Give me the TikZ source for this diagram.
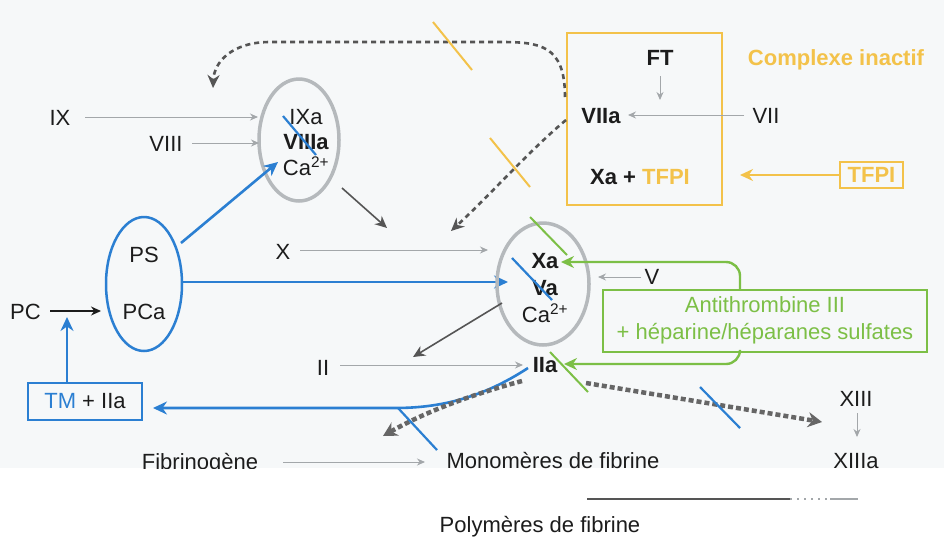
\documentclass[tikz,border=0pt]{standalone}
\usepackage{fontspec}
\setmainfont{Liberation Sans}
\usetikzlibrary{arrows.meta,shapes.geometric}
\definecolor{cblue}{HTML}{2B7FD2}
\definecolor{cyel}{HTML}{F3C24A}
\definecolor{cgreen}{HTML}{7CBF46}
\definecolor{cgreyell}{HTML}{B5B9BC}
\definecolor{cdark}{HTML}{555555}
\definecolor{clight}{HTML}{A3A7AA}
\definecolor{ctext}{HTML}{1C1C1C}
\definecolor{cbg}{HTML}{F6F8F9}
\begin{document}
\begin{tikzpicture}[x=1pt,y=-1pt,
  lbl/.style={font=\fontsize{22}{26}\selectfont, text=ctext, inner sep=0pt, anchor=base},
  blbl/.style={font=\fontsize{22}{26}\selectfont\bfseries, text=ctext, inner sep=0pt, anchor=base},
  greyarr/.style={draw=clight, line width=1pt, -{Stealth[length=8pt,width=7pt]}},
  darkarr/.style={draw=cdark, line width=1.6pt, -{Stealth[length=12pt,width=11pt]}},
  blackarr/.style={draw=ctext, line width=1.3pt, -{Stealth[length=10pt,width=9pt]}},
  dasharr/.style={draw=cdark, line width=2.6pt, dash pattern=on 5pt off 4pt, -{Stealth[length=13pt,width=12pt]}},
  thickdash/.style={draw=cdark!90, line width=4.5pt, dash pattern=on 5pt off 3pt, -{Stealth[length=14pt,width=15pt]}},
  bluearr/.style={draw=cblue, line width=2.6pt, -{Stealth[length=14pt,width=13pt]}},
  yelarr/.style={draw=cyel, line width=2.2pt, -{Stealth[length=13pt,width=12pt]}},
  greenarr/.style={draw=cgreen, line width=2.4pt, rounded corners=14pt, -{Stealth[length=13pt,width=12pt]}},
  yslash/.style={draw=cyel, line width=2pt},
  gslash/.style={draw=cgreen, line width=2pt},
  bslash/.style={draw=cblue, line width=2.2pt},
  complex/.style={draw=cgreyell, line width=3.5pt, ellipse, inner sep=0pt}
]
\useasboundingbox (0,0) rectangle (944,539);
\fill[cbg] (0,0) rectangle (944,468);

% ---- IXa complex
\node[lbl] (ix) at (60,125) {IX};
\node[lbl] (viii) at (166,151) {VIII};
\node[complex, minimum width=80pt, minimum height=122pt] (e1) at (299,140) {};
\node[lbl] (ixa) at (306,124) {IXa};
\node[blbl] (viiia) at (306,149) {VIIIa};
\node[lbl] (ca1) at (306,175) {Ca\textsuperscript{2+}};
\coordinate (ixS) at (85,117);  \coordinate (ixT) at (258,117);
\coordinate (viiiS) at (192,143); \coordinate (viiiT) at (259,143);
\draw[greyarr] (ixS) -- (ixT);
\draw[greyarr] (viiiS) -- (viiiT);
\coordinate (s1a) at (283,116); \coordinate (s1b) at (316,155);
\draw[bslash] (s1a) -- (s1b);

% ---- yellow complex
\node[draw=cyel, line width=2pt, minimum width=155pt, minimum height=172pt, inner sep=0pt] (ybox) at (644.5,119) {};
\node[blbl] (ft) at (660,65) {FT};
\node[blbl] (viia) at (601,123) {VIIa};
\node[lbl] (vii) at (766,123) {VII};
\node[blbl] (xatfpi) at (640,184) {Xa + \textcolor{cyel}{TFPI}};
\node[draw=cyel, line width=2pt, minimum width=63pt, minimum height=26pt, inner sep=0pt,
      font=\fontsize{22}{26}\selectfont\bfseries, text=cyel] (tfpi) at (871.5,175) {TFPI};
\node[blbl, text=cyel] (ci) at (836,65) {Complexe inactif};
\coordinate (ftS) at (660,76); \coordinate (ftT) at (660,100);
\draw[greyarr] (ftS) -- (ftT);
\coordinate (viiS) at (744,115); \coordinate (viiT) at (628,115);
\draw[greyarr] (viiS) -- (viiT);
\coordinate (tfpiT) at (740,175);
\draw[yelarr] (tfpi.west) -- (tfpiT);

% dashed feedback arrows
\coordinate (fbS) at (565,97); \coordinate (fbT) at (213,88);
\draw[dasharr] (fbS) .. controls (565,45) and (540,42) .. (500,42) -- (270,42) .. controls (232,42) and (214,62) .. (fbT);
\coordinate (fb2S) at (566,120); \coordinate (fb2T) at (451,231);
\draw[dasharr] (fb2S) .. controls (530,150) and (490,195) .. (fb2T);
\draw[yslash] (433,22) -- (472,70);
\draw[yslash] (490,138) -- (530,187);

% IXa complex -> X
\coordinate (e1S) at (342,188); \coordinate (e1T) at (387,228);
\draw[darkarr] (e1S) -- (e1T);

% ---- PS / PCa
\node[draw=cblue, line width=2.5pt, ellipse, inner sep=0pt, minimum width=76pt, minimum height=134pt] (e0) at (144,284) {};
\node[lbl] (ps) at (144,262) {PS};
\node[lbl] (pca) at (144,319) {PCa};
\node[lbl, anchor=base east] (pc) at (41,319) {PC};
\coordinate (pcS) at (50,311); \coordinate (pcT) at (101,311);
\draw[blackarr] (pcS) -- (pcT);
\node[draw=cblue, line width=2pt, minimum width=114pt, minimum height=37pt, inner sep=0pt,
      font=\fontsize{22}{26}\selectfont, text=ctext] (tm) at (85,401.5) {\textcolor{cblue}{TM} + IIa};
\coordinate (tmS) at (67,383); \coordinate (tmT) at (67,317);
\draw[bluearr] (tmS) -- (tmT);
\coordinate (psS) at (181,243); \coordinate (psT) at (278,162);
\draw[bluearr] (psS) -- (psT);
\coordinate (pcaS) at (182,282); \coordinate (pcaT) at (508,282);
\draw[bluearr] (pcaS) -- (pcaT);

% ---- Xa complex
\node[lbl] (x) at (283,259) {X};
\coordinate (xS) at (300,250); \coordinate (xT) at (488,250);
\draw[greyarr] (xS) -- (xT);
\node[complex, minimum width=92pt, minimum height=122pt] (e2) at (543,284) {};
\node[blbl] (xa) at (545,268) {Xa};
\node[blbl] (va) at (545,295) {Va};
\node[lbl] (ca2) at (545,322) {Ca\textsuperscript{2+}};
\draw[bslash] (512,258) -- (552,300);
\draw[gslash] (530,217) -- (567,255);
\node[lbl] (v) at (652,284) {V};
\coordinate (vS) at (641,277); \coordinate (vT) at (598,277);
\draw[greyarr] (vS) -- (vT);

% antithrombin
\node[draw=cgreen, line width=2.2pt, minimum width=324pt, minimum height=62pt, inner sep=0pt] (at) at (765,321) {};
\node[lbl, text=cgreen] (at1) at (765,312) {Antithrombine III};
\node[lbl, text=cgreen] (at2) at (765,339) {+ héparine/héparanes sulfates};
\coordinate (atS1) at (740,290); \coordinate (atT1) at (561,262);
\coordinate (atS2) at (740,352); \coordinate (atT2) at (564,364);
\draw[greenarr] (atS1) |- (atT1);
\draw[greenarr] (atS2) |- (atT2);

% ---- IIa
\node[blbl] (iia) at (545,372) {IIa};
\draw[gslash] (550,352) -- (588,392);
\node[lbl] (ii) at (323,375) {II};
\coordinate (iiS) at (340,365); \coordinate (iiT) at (523,365);
\draw[greyarr] (iiS) -- (iiT);
\coordinate (e2S) at (502,303); \coordinate (e2T) at (413,357);
\draw[darkarr] (e2S) -- (e2T);

% IIa -> TM
\coordinate (iiaS) at (528,368); \coordinate (iiaT) at (153,408);
\draw[bluearr] (iiaS) .. controls (482,398) and (440,408) .. (395,408) -- (iiaT);
% IIa -> fibrin (dashed)
\coordinate (d1S) at (522,381); \coordinate (d1T) at (383,436);
\draw[thickdash] (d1S) .. controls (470,395) and (425,412) .. (d1T);
\draw[bslash] (398,408) -- (437,450);
% IIa -> XIII
\coordinate (d2S) at (586,383); \coordinate (d2T) at (822,422);
\draw[thickdash] (d2S) -- (d2T);
\draw[bslash] (700,387) -- (740,428);

\node[lbl] (xiii) at (856,406) {XIII};
\coordinate (xiiiS) at (857,413); \coordinate (xiiiT) at (857,437);
\draw[greyarr] (xiiiS) -- (xiiiT);
\node[lbl] (xiiia) at (856,468) {XIIIa};

\node[lbl] (fib) at (200,469) {Fibrinogène};
\coordinate (fibS) at (283,462); \coordinate (fibT) at (425,462);
\draw[greyarr] (fibS) -- (fibT);
\node[lbl] (mono) at (553,468) {Monomères de fibrine};

% cut-off lower part
\fill[white] (0,468.5) rectangle (944,539);
\coordinate (l1) at (587,499); \coordinate (l2) at (790,499);
\coordinate (l3) at (830,499); \coordinate (l4) at (858,499);
\draw[cdark, line width=1.3pt] (l1) -- (l2);
\draw[clight, line width=1.3pt, dash pattern=on 2pt off 5pt] (l2) -- (l3);
\draw[clight, line width=1.6pt] (l3) -- (l4);
\node[lbl] (poly) at (540,532) {Polymères de fibrine};
\end{tikzpicture}
\end{document}
